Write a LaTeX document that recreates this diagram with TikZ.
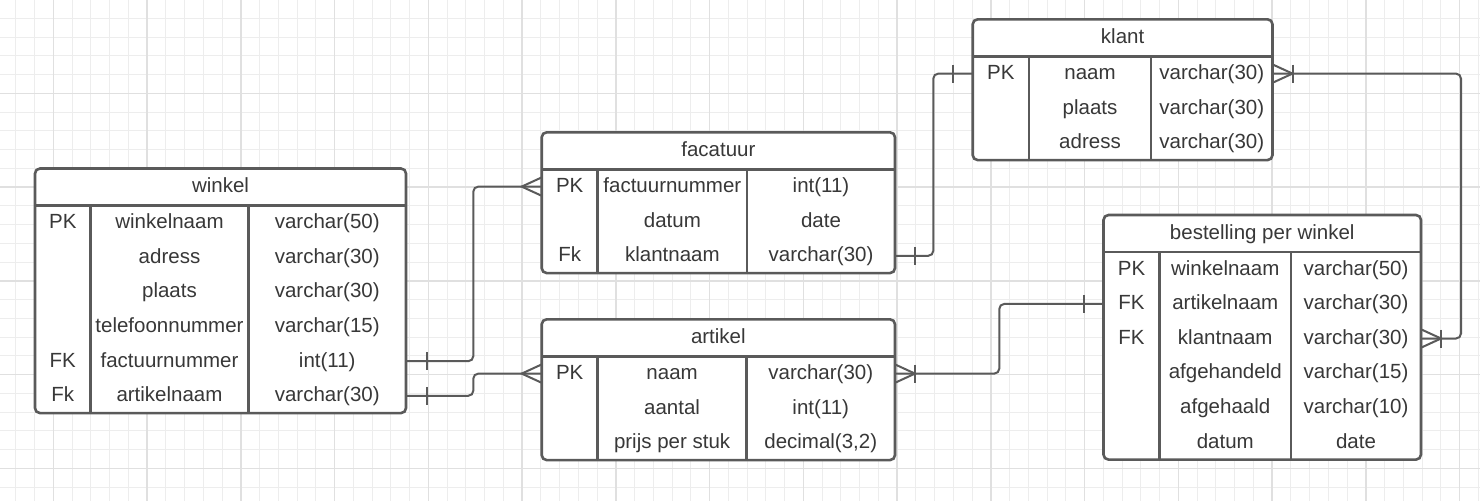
\documentclass[tikz,border=0pt]{standalone}
\usepackage{fontspec}
\setmainfont{Liberation Sans}
\usetikzlibrary{calc}
\definecolor{gridminor}{HTML}{EDEDED}
\definecolor{gridmajor}{HTML}{E0E0E0}
\definecolor{erdline}{HTML}{5A5A5A}
\definecolor{erdtext}{HTML}{383838}
\tikzset{
  tblbox/.style={draw=erdline, line width=2.6pt, rounded corners=5pt, inner sep=0pt, outer sep=0pt, fill=white},
  tblline/.style={draw=erdline, line width=2.6pt},
  rowbox/.style={inner sep=0pt, outer sep=0pt},
  txt/.style={inner sep=0pt, outer sep=0pt, anchor=base, text=erdtext, font=\fontsize{20.5}{24}\selectfont},
  conn/.style={draw=erdline, line width=2pt, rounded corners=5pt},
  tip/.style={draw=erdline, line width=2pt},
  gminor/.style={draw=gridminor, line width=1pt},
  gmajor/.style={draw=gridmajor, line width=1.5pt},
}
% #1 name, #2 left, #3 top, #4 right, #5 col1, #6 col2, #7 title, #8 rows, #9 number of rows
\newcommand\erdtable[9]{%
  \pgfmathsetmacro\tw{#4-#2}%
  \pgfmathsetmacro\th{37+#9*34.6}%
  \node[tblbox, minimum width=\tw pt, minimum height=\th pt, anchor=north west] (#1) at (#2,#3) {};
  \draw[tblline] (#2,#3+37) -- (#4,#3+37);
  \draw[tblline] (#5,#3+37) -- (#5,#3+\th);
  \draw[tblline] (#6,#3+37) -- (#6,#3+\th);
  \pgfmathsetmacro\mx{(#2+#4)/2}%
  \pgfmathsetmacro\ka{(#2+#5)/2}%
  \pgfmathsetmacro\kb{(#5+#6)/2}%
  \pgfmathsetmacro\kc{(#6+#4)/2}%
  \node[txt] (#1-title) at (\mx,#3+24.4) {#7};
  \foreach \ekey/\ename/\etype [count=\i] in {#8} {
    \pgfmathsetmacro\yc{#3+37+(\i-0.5)*34.6}
    \node[rowbox, minimum width=\tw pt, minimum height=34.6pt] (#1-\i) at (\mx,\yc) {};
    \node[txt] (#1-\i-key) at (\ka,\yc+5.8) {\ekey};
    \node[txt] (#1-\i-name) at (\kb,\yc+5.8) {\ename};
    \node[txt] (#1-\i-type) at (\kc,\yc+5.8) {\etype};
  }
}
\newcommand\erdbar[2]{\draw[tip] ($(#1)+(#2,-9)$) -- ($(#1)+(#2,9)$);}
\newcommand\crowfoot[2]{\draw[tip] ($(#1)+(0,-9.2)$) -- ($(#1)+(#2,0)$) -- ($(#1)+(0,9.2)$);}
\begin{document}
\begin{tikzpicture}[x=1pt,y=-1pt]
\useasboundingbox (0,0) rectangle (1480,501);
\fill[white] (0,0) rectangle (1480,501);
% grid
\foreach \k in {0,...,78} \draw[gminor] ({15.8+18.75*\k},0) -- ({15.8+18.75*\k},501);
\foreach \k in {0,...,25} \draw[gminor] (0,{18.3+18.75*\k}) -- (1480,{18.3+18.75*\k});
\foreach \m in {0,...,15} \draw[gmajor] ({53.3+93.75*\m},0) -- ({53.3+93.75*\m},501);
\foreach \m in {0,...,5} \draw[gmajor] (0,{-0.45+93.75*\m}) -- (1480,{-0.45+93.75*\m});
% tables
\erdtable{winkel}{35}{168.5}{406}{90.5}{248.5}{winkel}{PK/winkelnaam/varchar(50), /adress/varchar(30), /plaats/varchar(30), /telefoonnummer/varchar(15), FK/factuurnummer/int(11), Fk/artikelnaam/varchar(30)}{6}
\erdtable{facatuur}{541.7}{132.3}{895}{597.7}{747}{facatuur}{PK/factuurnummer/int(11), /datum/date, Fk/klantnaam/varchar(30)}{3}
\erdtable{artikel}{541.7}{319.3}{895}{597.7}{746.5}{artikel}{PK/naam/varchar(30), /aantal/int(11), /prijs per stuk/{decimal(3,2)}}{3}
\erdtable{klant}{972.7}{19.3}{1272.5}{1029}{1151}{klant}{PK/naam/varchar(30), /plaats/varchar(30), /adress/varchar(30)}{3}
\erdtable{bestelling}{1103.5}{215}{1421}{1159.5}{1291}{bestelling per winkel}{PK/winkelnaam/varchar(50), FK/artikelnaam/varchar(30), FK/klantnaam/varchar(30), /afgehandeld/varchar(15), /afgehaald/varchar(10), /datum/date}{6}
% connectors
\draw[conn] (winkel-5.east) -- ++(67.3,0) |- (facatuur-1.west);
\draw[conn] (winkel-6.east) -- ++(67.3,0) |- (artikel-1.west);
\draw[conn] (facatuur-3.east) -- ++(38.3,0) |- (klant-1.west);
\draw[conn] (artikel-1.east) -- ++(104.3,0) |- (bestelling-2.west);
\draw[conn] (klant-1.east) -- ++(188.5,0) |- (bestelling-3.east);
% ends
\erdbar{winkel-5.east}{21}
\erdbar{winkel-6.east}{21}
\crowfoot{facatuur-1.west}{-20}
\crowfoot{artikel-1.west}{-20}
\erdbar{facatuur-3.east}{20}
\erdbar{klant-1.west}{-20}
\crowfoot{artikel-1.east}{20}
\erdbar{artikel-1.east}{20}
\erdbar{bestelling-2.west}{-20}
\crowfoot{klant-1.east}{20}
\erdbar{klant-1.east}{20}
\crowfoot{bestelling-3.east}{20}
\erdbar{bestelling-3.east}{20}
\end{tikzpicture}
\end{document}
